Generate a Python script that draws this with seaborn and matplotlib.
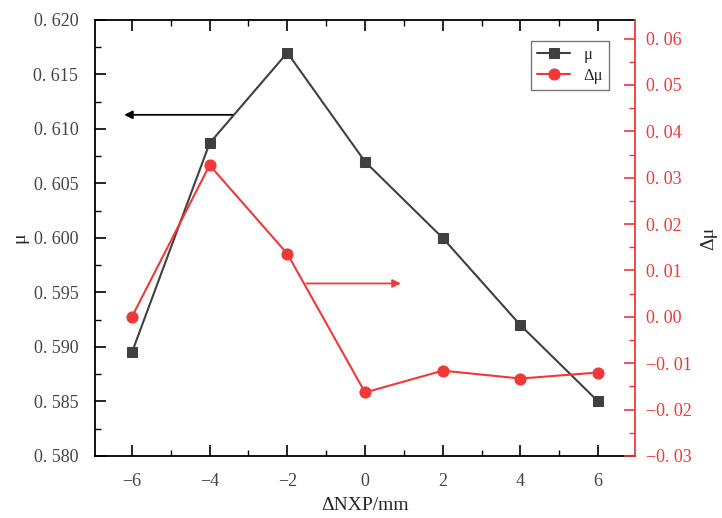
import numpy as np
import matplotlib.pyplot as plt
import seaborn as sns
import pandas as pd
from matplotlib.ticker import MultipleLocator, FuncFormatter

# values
dnxp = [-6, -4, -2, 0, 2, 4, 6]
mu = [0.5895, 0.6087, 0.6170, 0.6070, 0.6000, 0.5920, 0.5850]
dmu = [0.0000, 0.0327, 0.0136, -0.0163, -0.0116, -0.0133, -0.0120]

df = pd.DataFrame({"dNXP": dnxp, "mu": mu, "dmu": dmu})

sns.set_style("white")
plt.rcParams['font.family'] = ['Liberation Serif', 'DejaVu Serif']
plt.rcParams['axes.unicode_minus'] = True

black = "#404040"
red = "#f03838"

fig = plt.figure(figsize=(7.22, 5.18), dpi=100)
ax = fig.add_axes([0.1316, 0.1197, 0.748, 0.8417])
ax2 = ax.twinx()

sns.lineplot(data=df, x="dNXP", y="mu", ax=ax, color=black, marker="s",
             markersize=7, markeredgecolor=black, linewidth=1.5, label="μ", legend=False)
sns.lineplot(data=df, x="dNXP", y="dmu", ax=ax2, color=red, marker="o",
             markersize=8, markeredgecolor=red, linewidth=1.5, label="Δμ", legend=False)

ax.set_xlim(-6.95, 6.95)
ax.set_ylim(0.58, 0.62)
ax2.set_ylim(-0.03, 0.064)

ax.xaxis.set_major_locator(MultipleLocator(2))
ax.xaxis.set_minor_locator(MultipleLocator(1))
ax.yaxis.set_major_locator(MultipleLocator(0.005))
ax.yaxis.set_minor_locator(MultipleLocator(0.0025))
ax2.yaxis.set_major_locator(MultipleLocator(0.01))
ax2.yaxis.set_minor_locator(MultipleLocator(0.005))

def spaced(fmt):
    def f(v, pos):
        s = fmt.format(v)
        if s.startswith("-0.00") and abs(v) < 1e-9:
            s = s[1:]
        s = s.replace(".", ". ").replace("-", "\u2212")
        return s
    return FuncFormatter(f)

ax.yaxis.set_major_formatter(spaced("{:.3f}"))
ax2.yaxis.set_major_formatter(spaced("{:.2f}"))
ax.xaxis.set_major_formatter(FuncFormatter(lambda v, p: f"{v:.0f}".replace("-", "\u2212")))

ax.tick_params(which="both", direction="in", top=True, bottom=True, left=True,
               right=False, colors="black", labelsize=13, labelcolor="#444444")
ax.tick_params(which="major", length=8, width=1.2)
ax.tick_params(which="minor", length=4, width=1.0)
ax.tick_params(axis="x", pad=12)
ax.tick_params(axis="y", pad=12)
ax2.tick_params(which="both", direction="in", right=True, colors=red,
                labelsize=13, labelcolor=red, pad=8)
ax2.tick_params(which="major", length=8, width=1.2)
ax2.tick_params(which="minor", length=4, width=1.0)

for s in ["left", "bottom", "top"]:
    ax.spines[s].set_color("black")
    ax.spines[s].set_linewidth(1.3)
ax.spines["right"].set_visible(False)
ax2.spines["right"].set_color(red)
ax2.spines["right"].set_linewidth(1.3)
for s in ["left", "bottom", "top"]:
    ax2.spines[s].set_visible(False)

ax.set_xlabel("ΔNXP/mm", fontsize=14, labelpad=5)
ax.set_ylabel("μ", fontsize=14, labelpad=4)
ax2.set_ylabel("Δμ", fontsize=14, labelpad=6)

ax.annotate("", xy=(-6.2, 0.6113), xytext=(-3.42, 0.6113),
            arrowprops=dict(arrowstyle="-|>", color="black", lw=1.3,
                            mutation_scale=12, shrinkA=0, shrinkB=0))
ax2.annotate("", xy=(0.92, 0.0072), xytext=(-1.51, 0.0072),
             arrowprops=dict(arrowstyle="-|>", color=red, lw=1.3,
                             mutation_scale=12, shrinkA=0, shrinkB=0))

h1, l1 = ax.get_legend_handles_labels()
h2, l2 = ax2.get_legend_handles_labels()
leg = ax2.legend(h1 + h2, l1 + l2, loc="upper right", bbox_to_anchor=(0.952, 0.952),
                 borderaxespad=0, fontsize=12, frameon=True, fancybox=False,
                 handlelength=2.0, borderpad=0.35, labelspacing=0.3, handletextpad=0.8)
leg.get_frame().set_edgecolor("#555555")
leg.get_frame().set_linewidth(1.0)

fig.savefig("out.png", dpi=100)
